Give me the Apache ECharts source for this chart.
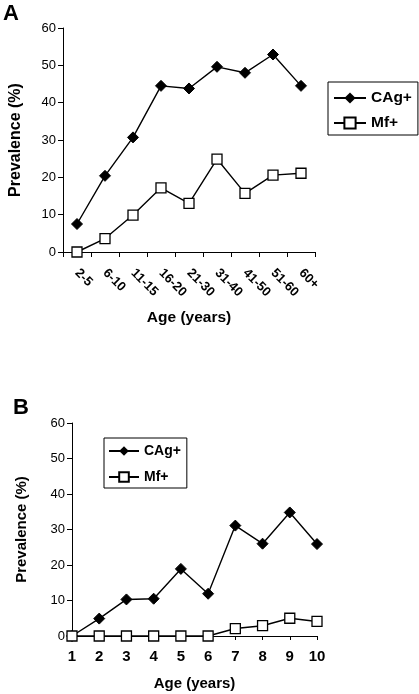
<!DOCTYPE html>
<html><head><meta charset="utf-8">
<script src="https://cdn.jsdelivr.net/npm/echarts@6/dist/echarts.min.js"></script>
<style>html,body{margin:0;padding:0;background:#fff}#c{width:419px;height:694px}</style>
</head><body><div id="c"></div>
<script>
const catsA = ['2-5','6-10','11-15','16-20','21-30','31-40','41-50','51-60','60+'];
const cagA = [7.5, 20.4, 30.7, 44.5, 43.8, 49.6, 48.0, 52.9, 44.5];
const mfA  = [0, 3.6, 9.9, 17.2, 13.0, 24.9, 15.7, 20.6, 21.1];
const catsB = ['1','2','3','4','5','6','7','8','9','10'];
const cagB = [0, 4.9, 10.3, 10.5, 18.9, 11.9, 31.1, 26.0, 34.8, 25.9];
const mfB  = [0, 0, 0, 0, 0, 0, 2.1, 2.9, 5.0, 4.1];
const yTicks = [0, 60, 10];

const F = 'Liberation Sans, Arial, sans-serif';
const chart = echarts.init(document.getElementById('c'));
const axisLine = {show:true, lineStyle:{color:'#000', width:1}};
const tick = {show:true, inside:false, length:5, lineStyle:{color:'#000'}};
function yAxis(gi, fs, nfs, gap){
  return {type:'value', gridIndex:gi, min:yTicks[0], max:yTicks[1], interval:yTicks[2],
    axisLine:axisLine, axisTick:tick, splitLine:{show:false},
    axisLabel:{color:'#000', fontFamily:F, fontSize:fs, margin:7},
    name:'Prevalence (%)', nameLocation:'middle', nameRotate:90, nameGap:gap,
    nameTextStyle:{color:'#000', fontFamily:F, fontWeight:'bold', fontSize:nfs}};
}
function cag(name, xi, data, sz){
  return {name:name, type:'line', xAxisIndex:xi, yAxisIndex:xi, data:data,
    symbol:'diamond', symbolSize:sz, showAllSymbol:true,
    lineStyle:{color:'#000', width:1.4}, itemStyle:{color:'#000', borderColor:'#000'}, animation:false};
}
function mf(name, xi, data, sz){
  return {name:name, type:'line', xAxisIndex:xi, yAxisIndex:xi, data:data,
    symbol:'rect', symbolSize:sz, showAllSymbol:true, z:3,
    lineStyle:{color:'#000', width:1.4}, itemStyle:{color:'#fff', borderColor:'#000', borderWidth:1.3}, animation:false};
}
chart.setOption({
  animation:false,
  title:[
    {text:'A', left:3, top:3, padding:0, textStyle:{fontFamily:F, fontWeight:'bold', fontSize:22, color:'#000'}},
    {text:'B', left:13, top:397, padding:0, textStyle:{fontFamily:F, fontWeight:'bold', fontSize:22, color:'#000'}}
  ],
  grid:[
    {left:62, top:28, width:253, height:224},
    {left:72, top:423, width:245, height:213}
  ],
  legend:[
    {orient:'vertical', left:328, top:82, borderColor:'#000', borderWidth:1, padding:[8,6,4,5],
      itemWidth:32, itemHeight:14, itemGap:9, data:['CAg+','Mf+'],
      textStyle:{fontFamily:F, fontWeight:'bold', fontSize:15.5, color:'#000'}},
    {orient:'vertical', left:104, top:438, borderColor:'#000', borderWidth:1, padding:[6,2,4,4],
      itemWidth:30, itemHeight:12, itemGap:12, data:['CAg+ ','Mf+ '],
      textStyle:{fontFamily:F, fontWeight:'bold', fontSize:14, color:'#000'}}
  ],
  xAxis:[
    {type:'category', gridIndex:0, data:catsA, boundaryGap:true,
      axisLine:axisLine, axisTick:{show:true, length:5, alignWithLabel:false, lineStyle:{color:'#000'}},
      axisLabel:{rotate:-45, interval:0, color:'#000', fontFamily:F, fontWeight:'bold', fontSize:13, margin:19},
      name:'Age (years)', nameLocation:'middle', nameGap:58,
      nameTextStyle:{color:'#000', fontFamily:F, fontWeight:'bold', fontSize:15.5}},
    {type:'category', gridIndex:1, data:catsB, boundaryGap:false,
      axisLine:axisLine, axisTick:{show:true, length:4, lineStyle:{color:'#000'}},
      axisLabel:{interval:0, color:'#000', fontFamily:F, fontWeight:'bold', fontSize:15, margin:13},
      name:'Age (years)', nameLocation:'middle', nameGap:40,
      nameTextStyle:{color:'#000', fontFamily:F, fontWeight:'bold', fontSize:15}}
  ],
  yAxis:[
    yAxis(0, 13, 16, 39),
    yAxis(1, 13, 15, 43)
  ],
  series:[
    cag('CAg+', 0, cagA, 11),
    mf('Mf+', 0, mfA, 10),
    cag('CAg+ ', 1, cagB, 11),
    mf('Mf+ ', 1, mfB, 10)
  ]
});
</script></body></html>
